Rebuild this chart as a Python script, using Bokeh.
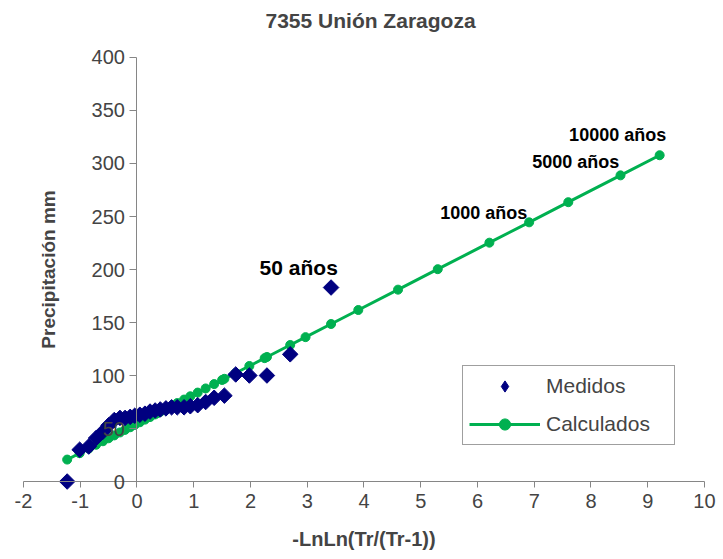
from bokeh.plotting import figure
from bokeh.models import Legend, LegendItem, Label, FixedTicker, Range1d
from bokeh.embed import file_html
from bokeh.resources import INLINE
import numpy as np

title = "7355 Unión Zaragoza"
x_label = "-LnLn(Tr/(Tr-1))"
y_label = "Precipitación mm"

# Measured values (plotting position, precipitation)
x_obs = [3.42, 2.70, 2.29, 1.98, 1.74, 1.54, 1.36, 1.21, 1.07, 0.94, 0.83, 0.71, 0.61, 0.51, 0.41,
         0.32, 0.23, 0.14, 0.05, -0.04, -0.12, -0.21, -0.30, -0.40, -0.50, -0.60, -0.72, -0.85, -1.01, -1.23]
y_obs = [183, 120, 100, 100, 101, 81, 79, 75, 72, 71, 70, 70, 70, 69, 68,
         67, 66, 64, 63, 62, 61, 60, 60, 58, 53, 47, 41, 33, 30, 0]

# Calculated (Gumbel fit) values
x_calc = [-1.23, -1.01, -0.85, -0.72, -0.60, -0.50, -0.40, -0.30, -0.21, -0.12, -0.04, 0.05, 0.14, 0.23,
          0.32, 0.37, 0.41, 0.51, 0.61, 0.71, 0.83, 0.94, 1.07, 1.21, 1.36, 1.50, 1.54, 1.74, 1.98,
          2.25, 2.29, 2.70, 2.97, 3.42, 3.90, 4.60, 5.30, 6.21, 6.91, 7.60, 8.52, 9.21]
y_calc = [20.7, 26.7, 31.1, 34.7, 38.0, 40.8, 43.5, 46.3, 48.7, 51.2, 53.4, 55.9, 58.4, 60.8,
          63.3, 64.7, 65.8, 68.5, 71.3, 74.0, 77.3, 80.4, 83.9, 87.8, 91.9, 95.8, 96.9, 102.4, 109.0,
          116.4, 117.5, 128.8, 136.2, 148.6, 161.8, 181.0, 200.3, 225.3, 244.5, 263.5, 288.8, 307.8]

x_ticks = [-2, -1, 0, 1, 2, 3, 4, 5, 6, 7, 8, 9, 10]
y_ticks = [0, 50, 100, 150, 200, 250, 300, 350, 400]

ann_text = ["50 años", "1000 años", "5000 años", "10000 años"]
ann_x = [2.85, 6.11, 7.73, 8.47]
ann_y = [202, 253, 301, 327]

FONT = "Liberation Sans"
AXIS_COLOR = "#868686"
GREEN = "#00B050"
NAVY = "#000080"

# The frame is a little larger than the axes' extent so the axes (which cross
# at x = 0 and y = 0) keep their labels unclipped.
p = figure(frame_width=718, frame_height=517,
           x_range=Range1d(-2.405, 10.247), y_range=Range1d(-67.9, 419.8),
           output_backend="svg", toolbar_location=None,
           min_border_left=0, min_border_right=0, min_border_top=36, min_border_bottom=0,
           background_fill_color="white", border_fill_color="white")
p.outline_line_color = None
p.grid.visible = False

p.title.text = title
p.title.align = "left"
p.title.offset = 265
p.title.text_font = FONT
p.title.text_font_size = "21px"
p.title.text_font_style = "bold"
p.title.standoff = 9

# x axis along y = 0
xa = p.xaxis[0]
xa.fixed_location = 0
xa.bounds = (x_ticks[0], x_ticks[-1])
xa.ticker = FixedTicker(ticks=x_ticks)
xa.major_label_overrides = {t: str(t) for t in x_ticks}
xa.axis_label = x_label
xa.axis_label_text_font = FONT
xa.axis_label_text_font_size = "20px"
xa.axis_label_text_font_style = "bold"
xa.axis_label_standoff = 17
xa.major_label_text_font = FONT
xa.major_label_text_font_size = "20px"
xa.major_label_standoff = 6
xa.major_tick_out = 6
xa.major_tick_in = 0
xa.minor_tick_out = 0
xa.minor_tick_in = 0
xa.axis_line_color = AXIS_COLOR
xa.major_tick_line_color = AXIS_COLOR

# y axis along x = 0
ya = p.yaxis[0]
ya.fixed_location = 0
ya.bounds = (y_ticks[0], y_ticks[-1])
ya.ticker = FixedTicker(ticks=y_ticks)
ya.axis_label = y_label
ya.axis_label_text_font = FONT
ya.axis_label_text_font_size = "19px"
ya.axis_label_text_font_style = "bold"
ya.axis_label_standoff = 29
ya.major_label_text_font = FONT
ya.major_label_text_font_size = "20px"
ya.major_label_standoff = 5
ya.major_tick_out = 7
ya.major_tick_in = 0
ya.minor_tick_out = 0
ya.minor_tick_in = 0
ya.axis_line_color = AXIS_COLOR
ya.major_tick_line_color = AXIS_COLOR

calc_line = p.line(x_calc, y_calc, line_color=GREEN, line_width=3)
calc_pts = p.scatter(x_calc, y_calc, marker="circle", size=9, fill_color=GREEN, line_color=GREEN)
obs_pts = p.scatter(x_obs, y_obs, marker="square", angle=np.pi / 4, size=11,
                    fill_color=NAVY, line_color=NAVY)
# legend swatch for the measured series (diamond shape), no visible point
obs_key = p.scatter(x=[np.nan], y=[np.nan], marker="diamond", size=15,
                    fill_color=NAVY, line_color=NAVY)

for i, (t, xx, yy) in enumerate(zip(ann_text, ann_x, ann_y)):
    big = i == 0
    p.add_layout(Label(x=xx, y=yy, text=t, text_align="center", text_baseline="middle",
                       text_font=FONT, text_font_size="21px" if big else "18px",
                       text_font_style="bold", text_color="black"))

legend = Legend(items=[LegendItem(label="Medidos", renderers=[obs_key]),
                       LegendItem(label="Calculados", renderers=[calc_line, calc_pts])],
                location=(462, 108), margin=0, padding=6, spacing=10,
                glyph_width=71, glyph_height=28, label_height=28, label_width=122,
                label_standoff=6, label_text_font=FONT, label_text_font_size="21px",
                border_line_color="#404040", border_line_width=1,
                background_fill_color="white", background_fill_alpha=1.0)
p.add_layout(legend, "center")

open("out.html", "w").write(file_html(p, INLINE))
